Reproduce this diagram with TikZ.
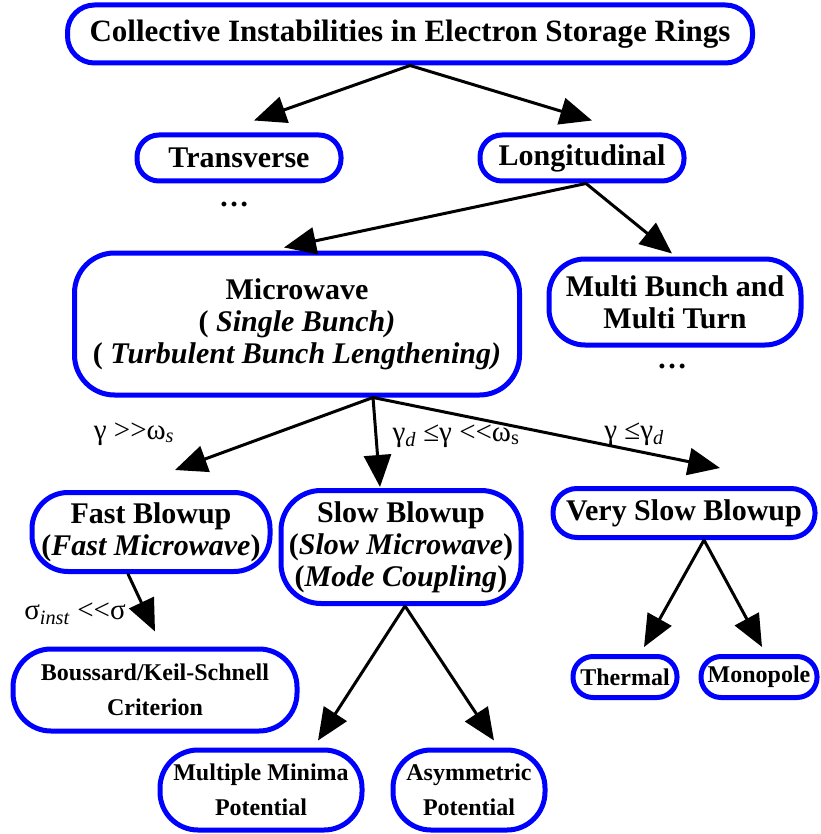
\documentclass[tikz,border=0pt]{standalone}
\usepackage{fontspec}
\setmainfont{Liberation Serif}
\usetikzlibrary{arrows.meta}

\newcommand{\bigtxt}{\fontsize{30}{32}\selectfont\bfseries}
\newcommand{\smalltxt}{\fontsize{24}{35}\selectfont\bfseries}
\newcommand{\lbltxt}{\fontsize{29}{32}\selectfont}
\newcommand{\muchgt}{>\kern0pt>}
\newcommand{\muchlt}{<\kern0pt<}

\begin{document}
\begin{tikzpicture}[x=1pt,y=-1pt,line cap=round,line join=round,
  box/.style={draw=blue,line width=5pt,rounded corners=22pt,align=center,
    inner sep=0pt,font=\bigtxt},
  smallbox/.style={box,font=\smalltxt},
  arr/.style={line width=3pt,-{Triangle[length=32pt,width=27pt]}},
  lbl/.style={font=\lbltxt}]
  \useasboundingbox (0,0) rectangle (820,834);

  \node[box,minimum width=685pt,minimum height=58pt,rounded corners=27pt,font=\fontsize{31}{33}\selectfont\bfseries]
    (title) at (410,34) {Collective Instabilities in Electron Storage Rings};

  \node[box,minimum width=204pt,minimum height=46pt] (trans) at (239,158) {Transverse};
  \node[box,minimum width=204pt,minimum height=46pt] (longi) at (582,158) {Longitudinal};
  \node[font=\bigtxt] (dotsa) at (234,204) {\dots};

  \node[box,minimum width=445pt,minimum height=142pt,rounded corners=40pt]
    (micro) at (297,324) {Microwave\\( \textit{Single Bunch)}\\( \textit{Turbulent Bunch Lengthening)}};
  \node[box,minimum width=252pt,minimum height=86pt,rounded corners=36pt]
    (multi) at (675,302) {Multi Bunch and\\Multi Turn};
  \node[font=\bigtxt] (dotsb) at (672,366) {\dots};

  \node[box,minimum width=238pt,minimum height=79pt,rounded corners=36pt]
    (fast) at (151,532) {Fast Blowup\\(\textit{Fast Microwave})};
  \node[box,minimum width=240pt,minimum height=113pt,rounded corners=40pt]
    (slow) at (401,547) {Slow Blowup\\(\textit{Slow Microwave})\\(\textit{Mode Coupling})};
  \node[box,minimum width=262pt,minimum height=49pt,rounded corners=24pt]
    (vslow) at (684,513) {Very Slow Blowup};

  \node[smallbox,minimum width=284pt,minimum height=82pt,rounded corners=38pt]
    (crit) at (155,690) {Boussard/Keil-Schnell\\Criterion};
  \node[smallbox,minimum width=202pt,minimum height=80pt,rounded corners=38pt]
    (mm) at (261,790) {Multiple Minima\\Potential};
  \node[smallbox,minimum width=152pt,minimum height=80pt,rounded corners=38pt]
    (asym) at (469,790) {Asymmetric\\Potential};
  \node[smallbox,minimum width=104pt,minimum height=41pt,rounded corners=20pt]
    (therm) at (625,677) {Thermal};
  \node[smallbox,minimum width=116pt,minimum height=41pt,rounded corners=20pt]
    (mono) at (759,677) {Monopole};

  \coordinate (mwout) at ([xshift=76pt]micro.south);
  \coordinate (fastout) at ([xshift=-23pt]fast.south);
  \coordinate (vsout) at ([xshift=20pt]vslow.south);

  \draw[arr] (title.south) -- ([xshift=15pt,yshift=12pt]trans.north);
  \draw[arr] (title.south) -- ([xshift=10pt,yshift=12pt]longi.north);
  \draw[arr] ([xshift=4pt]longi.south) -- ([xshift=-13pt,yshift=3pt]micro.north);
  \draw[arr] ([xshift=4pt]longi.south) -- ([xshift=-3pt,yshift=3pt]multi.north);
  \draw[arr] (mwout) -- ([xshift=24pt,yshift=20pt]fast.north);
  \draw[arr] (mwout) -- ([xshift=-21pt,yshift=1pt]slow.north);
  \draw[arr] (mwout) -- ([xshift=36pt,yshift=18pt]vslow.north);
  \draw[arr] (fastout) -- ([yshift=15pt]crit.north);
  \draw[arr] ([xshift=4pt]slow.south) -- ([xshift=57pt,yshift=7pt]mm.north);
  \draw[arr] ([xshift=4pt]slow.south) -- ([xshift=25pt,yshift=7pt]asym.north);
  \draw[arr] (vsout) -- ([xshift=19pt,yshift=7pt]therm.north);
  \draw[arr] (vsout) -- ([xshift=3pt,yshift=7pt]mono.north);

  \node[lbl] (fastcond) at (134,434) {γ \muchgt ω\textsubscript{\textit{s}}};
  \node[lbl] (slowcond) at (456,436) {γ\textsubscript{\textit{d}} ≤γ \muchlt ω\textsubscript{s}};
  \node[lbl] (vslowcond) at (634,434) {γ ≤γ\textsubscript{\textit{d}}};
  \node[lbl] (critcond) at (75,614) {σ\textsubscript{\textit{inst}} \muchlt σ};
\end{tikzpicture}
\end{document}
